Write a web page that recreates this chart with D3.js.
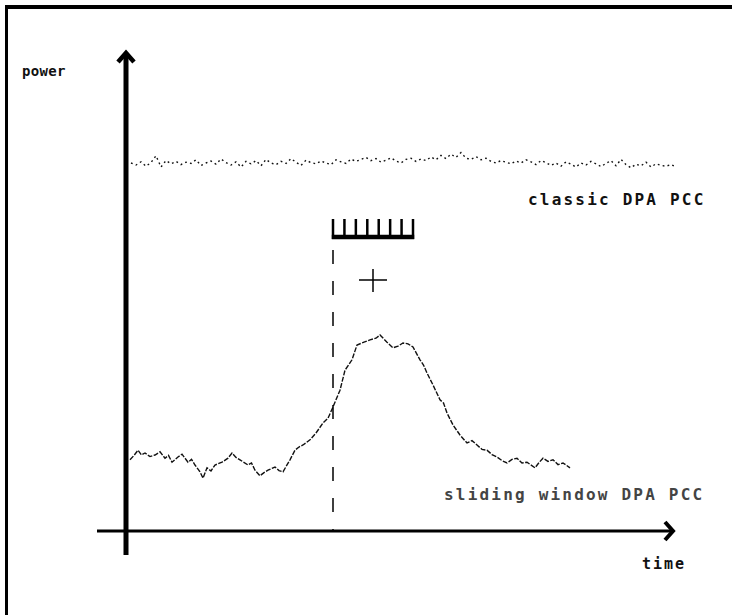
<!DOCTYPE html>
<html>
<head>
<meta charset="utf-8">
<script src="https://cdn.jsdelivr.net/npm/d3@7"></script>
<style>
  body { margin: 0; background: #fff; }
  text { font-family: "DejaVu Sans Mono", "Liberation Mono", monospace; font-weight: bold; fill: #111; }
</style>
</head>
<body>
<div id="chart"></div>
<script>
// classic DPA PCC, one value per time step t = 1..110
var classicPower = [
  92.0, 91.5, 92.3, 91.2, 92.1, 93.8, 91.0, 92.6, 91.8, 92.4,
  91.6, 92.2, 91.9, 92.8, 91.4, 92.0, 92.5, 91.7, 93.0, 92.1,
  91.5, 92.3, 91.0, 92.4, 91.8, 92.6, 91.3, 92.9, 92.0, 91.6,
  92.4, 91.9, 93.1, 92.2, 91.4, 92.7, 92.1, 91.8, 92.5, 92.0,
  91.6, 92.8, 92.3, 91.9, 93.0, 92.4, 92.9, 93.4, 92.6, 93.1,
  92.2, 92.7, 93.3, 92.5, 92.0, 92.9, 93.2, 92.4, 93.0, 92.6,
  93.5, 92.8, 93.9, 93.1, 94.2, 93.4, 94.6, 93.2, 92.9, 93.6,
  92.8, 93.2, 92.4, 92.0, 92.6, 92.2, 91.8, 92.5, 92.0, 92.8,
  92.3, 91.6, 92.6, 92.1, 91.4, 92.0, 91.2, 92.3, 91.7, 91.0,
  92.0, 91.5, 92.4, 91.8, 91.1, 91.9, 92.6, 91.3, 92.9, 91.6,
  90.8, 91.7, 91.3, 92.2, 91.0, 91.8, 91.4, 91.2, 91.6, 91.0
];

// sliding window DPA PCC
var slidingTime = [
  0.8, 1.6, 2.4, 3.1, 3.8, 4.8, 5.8, 6.8, 7.8, 8.5,
  9.2, 10.4, 11.2, 12.4, 13.1, 13.8, 14.8, 15.4, 16.2, 17.0,
  17.8, 19.2, 20.4, 21.2, 22.0, 22.8, 24.4, 25.1, 25.8, 26.8,
  27.6, 28.4, 29.8, 30.6, 31.4, 32.8, 33.8, 34.6, 35.4, 36.8,
  38.0, 39.4, 40.4, 41.4, 42.8, 43.8, 45.2, 46.2, 47.6, 48.8,
  50.0, 50.8, 52.2, 53.4, 54.4, 55.4, 56.4, 57.4, 58.8, 59.5,
  60.2, 61.4, 62.8, 63.5, 64.2, 65.4, 66.8, 68.2, 69.2, 70.2,
  71.2, 72.2, 73.2, 74.2, 75.2, 76.2, 77.2, 78.2, 79.2, 80.2,
  81.8, 82.6, 83.4, 84.4, 85.4, 86.4, 87.4, 88.8
];
var slidingPower = [
  17.8, 18.9, 20.2, 19.0, 19.5, 18.6, 19.0, 19.8, 18.2, 18.9,
  17.2, 18.5, 19.2, 17.2, 17.9, 16.5, 14.8, 13.2, 15.8, 15.0,
  16.5, 17.2, 18.2, 19.5, 18.4, 17.8, 16.5, 17.0, 15.2, 13.8,
  14.6, 15.2, 16.0, 15.1, 14.8, 17.8, 20.2, 21.0, 21.5, 22.8,
  24.5, 27.0, 28.2, 31.0, 35.2, 40.2, 42.8, 46.5, 47.2, 47.8,
  48.2, 49.0, 47.2, 45.8, 46.2, 47.0, 46.8, 46.0, 42.8, 41.5,
  39.5, 36.5, 32.8, 32.0, 29.5, 26.5, 24.0, 22.0, 22.6, 21.5,
  20.4, 20.2, 19.1, 18.5, 17.6, 17.0, 17.9, 18.2, 17.0, 17.2,
  15.8, 17.1, 18.2, 17.4, 17.8, 16.6, 17.0, 15.8
];

// window marker and labels
var windowStart = 41.4, windowEnd = 57.4, windowTeeth = 8;
var plusTime = 49.4, plusPower = 62.75;
var labels = ["power", "time", "classic DPA PCC", "sliding window DPA PCC"];

var width = 732, height = 615;

var svg = d3.select("#chart").append("svg")
    .attr("width", width)
    .attr("height", height);

var x = d3.scaleLinear().domain([0, 110]).range([126, 676]);
var y = d3.scaleLinear().domain([0, 120]).range([531, 51]);

// frame (top and left only)
svg.append("line").attr("x1", 5).attr("x2", width).attr("y1", 7).attr("y2", 7)
    .attr("stroke", "#000").attr("stroke-width", 4);
svg.append("line").attr("x1", 6.5).attr("x2", 6.5).attr("y1", 5).attr("y2", height)
    .attr("stroke", "#000").attr("stroke-width", 3);

// axes
svg.append("line")
    .attr("x1", x(0)).attr("x2", x(0))
    .attr("y1", y(-6)).attr("y2", y(119.5))
    .attr("stroke", "#000").attr("stroke-width", 5);
svg.append("path")
    .attr("d", "M" + (x(0) - 8) + "," + (y(119.5) + 9) + "L" + x(0) + "," + y(119.5) + "L" + (x(0) + 8) + "," + (y(119.5) + 9))
    .attr("fill", "none").attr("stroke", "#000").attr("stroke-width", 4.5);

svg.append("line")
    .attr("x1", x(-5.8)).attr("x2", x(109.4))
    .attr("y1", y(0)).attr("y2", y(0))
    .attr("stroke", "#000").attr("stroke-width", 3);
svg.append("path")
    .attr("d", "M" + (x(109.4) - 8) + "," + (y(0) - 9) + "L" + x(109.4) + "," + y(0) + "L" + (x(109.4) - 8) + "," + (y(0) + 9))
    .attr("fill", "none").attr("stroke", "#000").attr("stroke-width", 4);

// curves
var line = d3.line()
    .x(function(d) { return x(d[0]); })
    .y(function(d) { return y(d[1]); });

svg.append("path")
    .datum(classicPower.map(function(v, i) { return [i + 1, v]; }))
    .attr("d", line)
    .attr("fill", "none")
    .attr("stroke", "#111")
    .attr("stroke-width", 1.4)
    .attr("stroke-dasharray", "1.8,3.2");

svg.append("path")
    .datum(slidingTime.map(function(t, i) { return [t, slidingPower[i]]; }))
    .attr("d", line)
    .attr("fill", "none")
    .attr("stroke", "#111")
    .attr("stroke-width", 1.4)
    .attr("stroke-dasharray", "5,1.5");

// dashed line at window start
svg.append("line")
    .attr("x1", x(windowStart)).attr("x2", x(windowStart))
    .attr("y1", y(70.25)).attr("y2", y(0))
    .attr("stroke", "#000").attr("stroke-width", 1.5)
    .attr("stroke-dasharray", "14,17");

// window comb
var comb = svg.append("g");
var teeth = d3.range(windowTeeth).map(function(i) {
    return windowStart + i * (windowEnd - windowStart) / (windowTeeth - 1);
});
comb.selectAll("line.tooth").data(teeth).enter().append("line")
    .attr("class", "tooth")
    .attr("x1", function(d) { return x(d); })
    .attr("x2", function(d) { return x(d); })
    .attr("y1", y(78)).attr("y2", y(73))
    .attr("stroke", "#000").attr("stroke-width", 2.5);
comb.append("line")
    .attr("x1", x(windowStart) - 1.2).attr("x2", x(windowEnd) + 1.2)
    .attr("y1", y(73) - 2).attr("y2", y(73) - 2)
    .attr("stroke", "#000").attr("stroke-width", 4.5);

// plus sign
svg.append("line")
    .attr("x1", x(plusTime) - 14).attr("x2", x(plusTime) + 14)
    .attr("y1", y(plusPower)).attr("y2", y(plusPower))
    .attr("stroke", "#000").attr("stroke-width", 1.5);
svg.append("line")
    .attr("x1", x(plusTime)).attr("x2", x(plusTime))
    .attr("y1", y(plusPower) - 11).attr("y2", y(plusPower) + 12)
    .attr("stroke", "#000").attr("stroke-width", 1.5);

// labels
svg.append("text").attr("x", 22).attr("y", 76)
    .style("font-size", "14px").style("letter-spacing", "0.3px").text(labels[0]);
svg.append("text").attr("x", 642).attr("y", 569)
    .style("font-size", "15px").style("letter-spacing", "2px").text(labels[1]);
svg.append("text").attr("x", 528).attr("y", 205)
    .style("font-size", "16px").style("letter-spacing", "2.2px").text(labels[2]);
svg.append("text").attr("x", 444).attr("y", 500)
    .style("font-size", "16px").style("letter-spacing", "2.2px")
    .style("fill", "#444").text(labels[3]);
</script>
</body>
</html>
